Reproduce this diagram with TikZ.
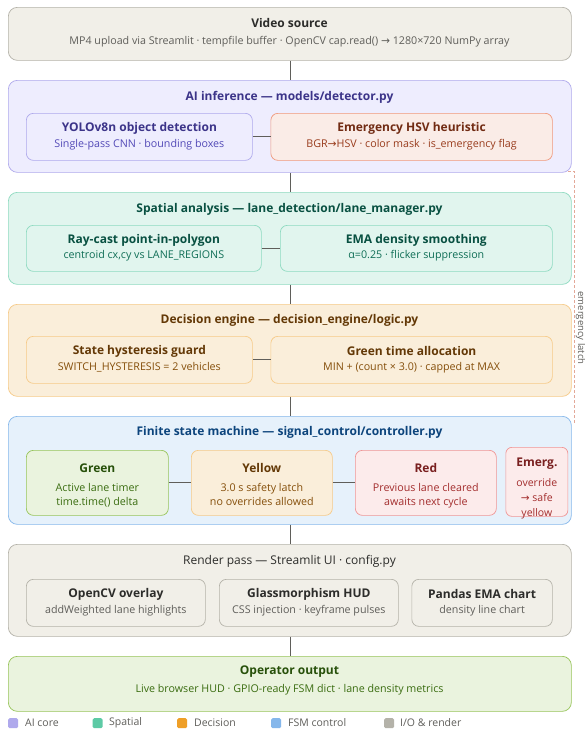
\documentclass[tikz,border=0pt]{standalone}
\usepackage{fontspec}
\setmainfont{Open Sans}
\newfontfamily\symf{DejaVu Sans}
\newcommand{\rarr}{{\symf →}}
\definecolor{conn}{HTML}{5F5E5A}
\definecolor{grayfill}{HTML}{F1EFE8}
\definecolor{graydraw}{HTML}{B4B2A9}
\definecolor{graytitle}{HTML}{2C2C2A}
\definecolor{graysub}{HTML}{5F5E5A}
\definecolor{purfill}{HTML}{EEEDFE}
\definecolor{purdraw}{HTML}{AFA9EC}
\definecolor{purtitle}{HTML}{3C3489}
\definecolor{pursub}{HTML}{534AB7}
\definecolor{corfill}{HTML}{FAECE7}
\definecolor{cordraw}{HTML}{F0997B}
\definecolor{cortitle}{HTML}{712B13}
\definecolor{corsub}{HTML}{993C1D}
\definecolor{tealfill}{HTML}{E1F5EE}
\definecolor{tealdraw}{HTML}{5DCAA5}
\definecolor{tealtitle}{HTML}{085041}
\definecolor{tealsub}{HTML}{0F6E56}
\definecolor{ambfill}{HTML}{FAEEDA}
\definecolor{ambdraw}{HTML}{EF9F27}
\definecolor{ambtitle}{HTML}{633806}
\definecolor{ambsub}{HTML}{854F0B}
\definecolor{bluefill}{HTML}{E6F1FB}
\definecolor{bluedraw}{HTML}{85B7EB}
\definecolor{bluetitle}{HTML}{0C447C}
\definecolor{grnfill}{HTML}{EAF3DE}
\definecolor{grndraw}{HTML}{97C459}
\definecolor{grntitle}{HTML}{27500A}
\definecolor{grnsub}{HTML}{3B6D11}
\definecolor{redfill}{HTML}{FCEBEB}
\definecolor{reddraw}{HTML}{F09595}
\definecolor{redtitle}{HTML}{791F1F}
\definecolor{redsub}{HTML}{A32D2D}
\definecolor{latch}{HTML}{E3A898}
\begin{document}
\begin{tikzpicture}[x=1pt,y=-1pt,
  outerbox/.style={draw, rounded corners=9pt, line width=0.7pt, inner sep=0pt, anchor=north west},
  innerbox/.style={draw, rounded corners=7pt, line width=0.7pt, inner sep=0pt, anchor=north west},
  bandtitle/.style={font=\fontsize{12}{14}\selectfont\bfseries, inner sep=0pt},
  boxtitle/.style={font=\fontsize{12}{14}\selectfont\bfseries, inner sep=0pt},
  boxsub/.style={font=\fontsize{10.7}{14}\selectfont, inner sep=0pt, align=center},
  conline/.style={draw=conn, line width=0.8pt},
  legsq/.style={fill=#1, draw=none, rounded corners=1.5pt, minimum size=10pt, inner sep=0pt, anchor=north west},
  legtxt/.style={font=\fontsize{10.5}{12}\selectfont, text=graysub, anchor=west, inner sep=0pt}
]
\useasboundingbox[fill=white] (0,0) rectangle (585,731);

% emergency latch (drawn first, under the boxes)
\coordinate (latchA) at (553,171);
\coordinate (latchB) at (574,171);
\coordinate (latchC) at (574,424);
\draw[latch, dashed, line width=0.7pt, dash pattern=on 3pt off 2pt] (latchA) -- (latchB) -- (latchC);
\node[rotate=-90, font=\fontsize{9.5}{10}\selectfont, text=graysub, inner sep=0pt] (latchlbl) at (580.5,328) {emergency latch};

% Video source
\node[outerbox, fill=grayfill, draw=graydraw, minimum width=563pt, minimum height=53pt] (video) at (8,7) {};
\node[bandtitle, text=graytitle] (videot) at (289.5,23) {Video source};
\node[boxsub, text=graysub] (videos) at (289.5,42) {MP4 upload via Streamlit · tempfile buffer · OpenCV cap.read() \rarr{} 1280×720 NumPy array};

% AI inference
\node[outerbox, fill=purfill, draw=purdraw, minimum width=563pt, minimum height=92pt] (ai) at (8,80) {};
\node[bandtitle, text=purtitle] (ait) at (289.5,97) {AI inference — models/detector.py};
\node[innerbox, fill=purfill, draw=purdraw, minimum width=226pt, minimum height=47pt] (yolo) at (26,113) {};
\node[boxtitle, text=purtitle] at ([yshift=8.5pt]yolo.center) {YOLOv8n object detection};
\node[boxsub, text=pursub] at ([yshift=-7.5pt]yolo.center) {Single-pass CNN · bounding boxes};
\node[innerbox, fill=corfill, draw=cordraw, minimum width=281.5pt, minimum height=47pt] (hsv) at (270.5,113) {};
\node[boxtitle, text=cortitle] at ([yshift=8.5pt]hsv.center) {Emergency HSV heuristic};
\node[boxsub, text=corsub] at ([yshift=-7.5pt]hsv.center) {BGR\rarr{}HSV · color mask · is\_emergency flag};
\draw[conline] (yolo.east) -- (hsv.west);

% Spatial
\node[outerbox, fill=tealfill, draw=tealdraw!70!white, minimum width=563pt, minimum height=92pt] (spatial) at (8,192) {};
\node[bandtitle, text=tealtitle] (spt) at (289.5,209) {Spatial analysis — lane\_detection/lane\_manager.py};
\node[innerbox, fill=tealfill, draw=tealdraw!70!white, minimum width=235pt, minimum height=46pt] (ray) at (26,225) {};
\node[boxtitle, text=tealtitle] at ([yshift=8pt]ray.center) {Ray-cast point-in-polygon};
\node[boxsub, text=tealsub] at ([yshift=-7.5pt]ray.center) {centroid cx,cy vs LANE\_REGIONS};
\node[innerbox, fill=tealfill, draw=tealdraw!70!white, minimum width=272pt, minimum height=46pt] (ema) at (280,225) {};
\node[boxtitle, text=tealtitle] at ([yshift=8pt]ema.center) {EMA density smoothing};
\node[boxsub, text=tealsub] at ([yshift=-7.5pt]ema.center) {α=0.25 · flicker suppression};
\draw[conline] (ray.east) -- (ema.west);

% Decision
\node[outerbox, fill=ambfill, draw=ambdraw!55!white, minimum width=563pt, minimum height=92pt] (decision) at (8,304) {};
\node[bandtitle, text=ambtitle] (dct) at (289.5,320) {Decision engine — decision\_engine/logic.py};
\node[innerbox, fill=ambfill, draw=ambdraw!55!white, minimum width=226pt, minimum height=47pt] (hyst) at (26,336) {};
\node[boxtitle, text=ambtitle] at ([yshift=8.5pt]hyst.center) {State hysteresis guard};
\node[boxsub, text=ambsub] at ([yshift=-7.5pt]hyst.center) {SWITCH\_HYSTERESIS = 2 vehicles};
\node[innerbox, fill=ambfill, draw=ambdraw!55!white, minimum width=281.5pt, minimum height=47pt] (gtime) at (270.5,336) {};
\node[boxtitle, text=ambtitle] at ([yshift=8.5pt]gtime.center) {Green time allocation};
\node[boxsub, text=ambsub] at ([yshift=-7.5pt]gtime.center) {MIN + (count × 3.0) · capped at MAX};
\draw[conline] (hyst.east) -- (gtime.west);

% FSM
\node[outerbox, fill=bluefill, draw=bluedraw, minimum width=563pt, minimum height=108pt] (fsm) at (8,416) {};
\node[bandtitle, text=bluetitle] (fsmt) at (289.5,432) {Finite state machine — signal\_control/controller.py};
\node[innerbox, fill=grnfill, draw=grndraw, minimum width=142pt, minimum height=65pt] (green) at (26,450) {};
\node[boxtitle, text=grntitle] at ([yshift=14.5pt]green.center) {Green};
\node[boxsub, text=grnsub, anchor=north] at ([yshift=-0.5pt]green.center) {Active lane timer\\time.time() delta};
\node[innerbox, fill=ambfill, draw=ambdraw!55!white, minimum width=141pt, minimum height=65pt] (yellow) at (191,450) {};
\node[boxtitle, text=ambtitle] at ([yshift=14.5pt]yellow.center) {Yellow};
\node[boxsub, text=ambsub, anchor=north] at ([yshift=-0.5pt]yellow.center) {3.0 s safety latch\\no overrides allowed};
\node[innerbox, fill=redfill, draw=reddraw, minimum width=141pt, minimum height=65pt] (red) at (355,450) {};
\node[boxtitle, text=redtitle] at ([yshift=14.5pt]red.center) {Red};
\node[boxsub, text=redsub, anchor=north] at ([yshift=-0.5pt]red.center) {Previous lane cleared\\awaits next cycle};
\node[innerbox, fill=redfill, draw=reddraw, rounded corners=6pt, minimum width=62pt, minimum height=69pt] (emerg) at (505.5,447) {};
\node[boxtitle, text=redtitle] at ([yshift=18.5pt]emerg.center) {Emerg.};
\node[boxsub, text=redsub, anchor=north, font=\fontsize{10.5}{15}\selectfont] at ([yshift=3.5pt]emerg.center) {override\\\rarr{} safe\\yellow};
\draw[conline] (green.east) -- (yellow.west);
\draw[conline] (yellow.east) -- (red.west);

% Render
\node[outerbox, fill=grayfill, draw=graydraw, minimum width=563pt, minimum height=92pt] (render) at (8,544) {};
\node[bandtitle, text=graytitle, font=\fontsize{12}{14}\selectfont] (rdt) at (289.5,561) {Render pass — Streamlit UI · config.py};
\node[innerbox, fill=grayfill, draw=graydraw, minimum width=179pt, minimum height=47pt] (ocv) at (26,579) {};
\node[boxtitle, text=graytitle] at ([yshift=8.5pt]ocv.center) {OpenCV overlay};
\node[boxsub, text=graysub] at ([yshift=-7.5pt]ocv.center) {addWeighted lane highlights};
\node[innerbox, fill=grayfill, draw=graydraw, minimum width=179pt, minimum height=47pt] (hud) at (219,579) {};
\node[boxtitle, text=graytitle] at ([yshift=8.5pt]hud.center) {Glassmorphism HUD};
\node[boxsub, text=graysub] at ([yshift=-7.5pt]hud.center) {CSS injection · keyframe pulses};
\node[innerbox, fill=grayfill, draw=graydraw, minimum width=140.5pt, minimum height=47pt] (pandas) at (411.5,579) {};
\node[boxtitle, text=graytitle] at ([yshift=8.5pt]pandas.center) {Pandas EMA chart};
\node[boxsub, text=graysub] at ([yshift=-7.5pt]pandas.center) {density line chart};

% Operator output
\node[outerbox, fill=grnfill, draw=grndraw, minimum width=563pt, minimum height=55pt] (oper) at (8,656) {};
\node[bandtitle, text=grntitle] (opt) at (289.5,672) {Operator output};
\node[boxsub, text=grnsub] (ops) at (289.5,690) {Live browser HUD · GPIO-ready FSM dict · lane density metrics};

% spine connectors
\draw[conline] (video.south -| 290,0) -- (ai.north -| 290,0);
\draw[conline] (ai.south -| 290,0) -- (spatial.north -| 290,0);
\draw[conline] (spatial.south -| 290,0) -- (decision.north -| 290,0);
\draw[conline] (decision.south -| 290,0) -- (fsm.north -| 290,0);
\draw[conline] (fsm.south -| 290,0) -- (render.north -| 290,0);
\draw[conline] (render.south -| 290,0) -- (oper.north -| 290,0);

% legend
\node[legsq=purdraw] (lg1) at (8,718) {};
\node[legtxt] at (25,723) {AI core};
\node[legsq=tealdraw] (lg2) at (92.5,718) {};
\node[legtxt] at (109,723) {Spatial};
\node[legsq=ambdraw] (lg3) at (177,718) {};
\node[legtxt] at (194,723) {Decision};
\node[legsq=bluedraw] (lg4) at (271,718) {};
\node[legtxt] at (288,723) {FSM control};
\node[legsq=graydraw] (lg5) at (384,718) {};
\node[legtxt] at (400,723) {I/O \& render};
\end{tikzpicture}
\end{document}
